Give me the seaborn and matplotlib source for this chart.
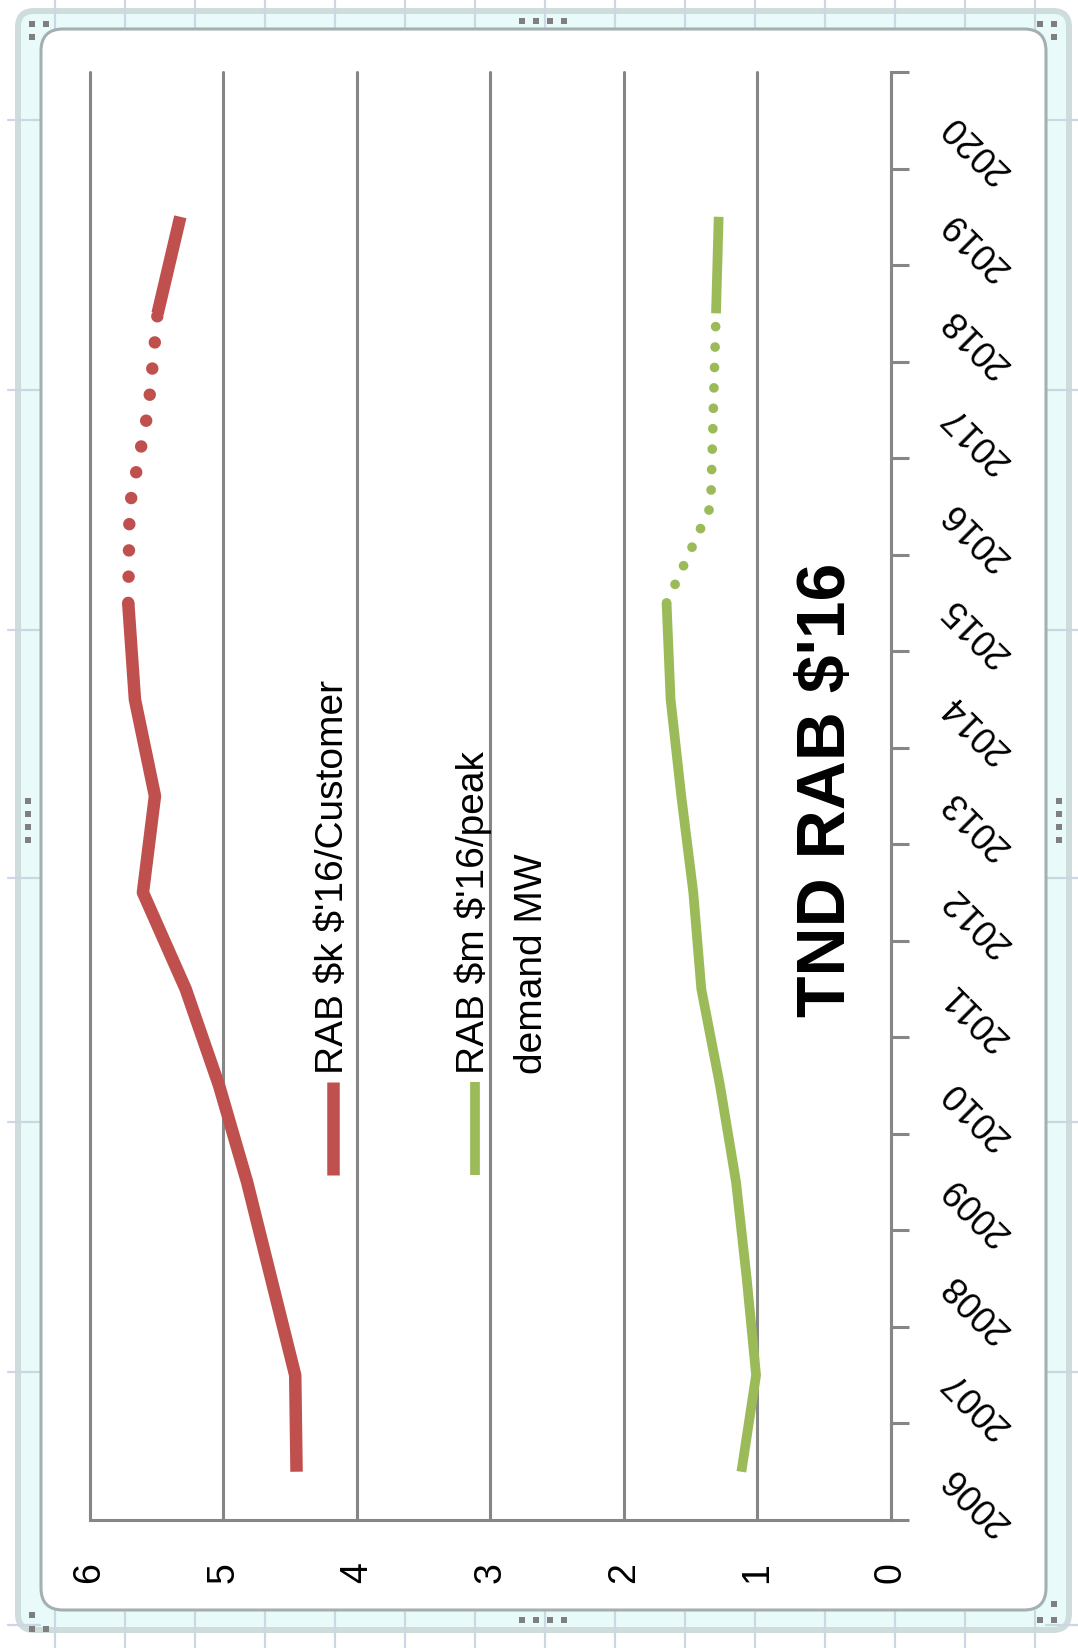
import matplotlib
matplotlib.use('Agg')
import matplotlib.pyplot as plt
import seaborn as sns
import pandas as pd
from matplotlib.patches import FancyBboxPatch, Rectangle
from matplotlib.lines import Line2D
from matplotlib.transforms import IdentityTransform

# --- data -------------------------------------------------------------
years = [2006, 2007, 2008, 2009, 2010, 2011, 2012, 2013, 2014, 2015, 2016, 2017, 2018, 2019]
year_ticks = [2006, 2007, 2008, 2009, 2010, 2011, 2012, 2013, 2014, 2015, 2016, 2017, 2018, 2019, 2020]
value_ticks = [0, 1, 2, 3, 4, 5, 6]

rab_per_customer = [4.45, 4.46, 4.64, 4.82, 5.03, 5.28, 5.60, 5.51, 5.66, 5.71, 5.70, 5.56, 5.49, 5.32]
rab_per_peak_mw = [1.12, 1.01, 1.08, 1.16, 1.28, 1.42, 1.48, 1.57, 1.65, 1.68, 1.35, 1.33, 1.31, 1.29]

# years 2015-2018 are joined with a dotted line, the rest solid
segments = [('solid', 2006, 2015), ('dotted', 2015, 2018), ('solid', 2018, 2019)]

red_label = "RAB $k $'16/Customer"
green_label = ["RAB $m $'16/peak", "demand MW"]
title = "TND RAB $'16"

RED = '#C0504D'
GREEN = '#9BBB59'
GRID = '#868686'

W, H = 1078, 1648

sns.set_style('white')
plt.rcParams['font.family'] = ['Liberation Sans', 'DejaVu Sans']
plt.rcParams['text.color'] = 'black'

fig = plt.figure(figsize=(W / 100, H / 100), dpi=100)
fig.patch.set_facecolor('white')


def px(x, y):
    return x, H - y


# --- spreadsheet / chart frame decoration -----------------------------
ident = IdentityTransform()
outer = FancyBboxPatch(px(18, 1630), 1051, 1619, boxstyle='round,pad=0,rounding_size=16',
                       transform=ident, facecolor='#E8FAFA', edgecolor='#CFDCDC',
                       linewidth=4.3, zorder=-10)
fig.add_artist(outer)
for cx in range(55, 1060, 70):
    fig.add_artist(Line2D([cx, cx], [H, H - 29], transform=ident, color='#CDD7E3', lw=1.6, zorder=-9))
    fig.add_artist(Line2D([cx, cx], [H - 1611, 0], transform=ident, color='#CDD7E3', lw=1.6, zorder=-9))
for cy in [120, 390, 630, 878, 1122, 1372, 1625]:
    fig.add_artist(Line2D([8, 40], [H - cy, H - cy], transform=ident, color='#CDD7E3', lw=1.6, zorder=-9))
    fig.add_artist(Line2D([1046, 1078], [H - cy, H - cy], transform=ident, color='#CDD7E3', lw=1.6, zorder=-9))
inner = FancyBboxPatch(px(41, 1610), 1005, 1581, boxstyle='round,pad=0,rounding_size=22',
                       transform=ident, facecolor='white', edgecolor='#A4B0B0',
                       linewidth=2.2, zorder=-8)
fig.add_artist(inner)

handles = [(29, 21), (43, 21), (29, 34), (519, 18), (533, 18), (547, 18), (561, 18),
           (1037, 21), (1051, 21), (1051, 34), (25, 798), (25, 811), (25, 824), (25, 837),
           (1056, 798), (1056, 811), (1056, 824), (1056, 837),
           (519, 1617), (533, 1617), (547, 1617), (561, 1617),
           (29, 1612), (29, 1626), (43, 1626), (1051, 1601), (1037, 1617), (1051, 1617)]
for hx, hy in handles:
    fig.add_artist(Rectangle((hx, H - hy - 6), 6, 6, transform=ident, facecolor='#7F7F7F',
                             edgecolor='none', zorder=-7))

# --- plot area --------------------------------------------------------
left, right, top, bottom = 89.5, 891, 72, 1520
ax = fig.add_axes([left / W, 1 - bottom / H, (right - left) / W, (bottom - top) / H])
ax.patch.set_alpha(0)

df = pd.DataFrame({'year': years, 'customer': rab_per_customer, 'peak': rab_per_peak_mw})
for style, y0, y1 in segments:
    part = df[(df['year'] >= y0) & (df['year'] <= y1)]
    for col, color, lw in [('customer', RED, 9), ('peak', GREEN, 7)]:
        kw = dict(solid_capstyle='butt', solid_joinstyle='round')
        if style == 'dotted':
            kw = dict(linestyle=(0, (0.001, 2.1)), dash_capstyle='round')
        sns.lineplot(data=part, x=col, y='year', orient='y', sort=False, estimator=None,
                     color=color, lw=lw, ax=ax, **kw)

ax.set_xlim(6, 0)
ax.set_ylim(2005.5, 2020.5)
ax.set_xlabel('')
ax.set_ylabel('')

# value axis (bottom)
ax.set_xticks(value_ticks)
ax.set_xticklabels([str(v) for v in value_ticks])
ax.tick_params(axis='x', direction='out', length=10, width=2.2, color=GRID, pad=20,
               labelsize=27, labelrotation=90, labelcolor='black')
ax.xaxis.grid(True, color=GRID, lw=2.2)
for gl in ax.get_xgridlines():
    gl.set_clip_on(False)
ax.yaxis.grid(False)

# category axis (right)
ax.yaxis.tick_right()
ax.set_yticks(year_ticks)
ax.set_yticklabels([str(y) for y in year_ticks])
ax.set_yticks([y - 0.5 for y in year_ticks] + [2020.5], minor=True)
ax.tick_params(axis='y', which='major', length=0, pad=41, labelsize=26, labelcolor='black')
ax.tick_params(axis='y', which='minor', direction='out', length=13, width=2.2, color=GRID,
               right=True, left=False)
for lbl in ax.get_yticklabels():
    lbl.set_rotation(135)
    lbl.set_rotation_mode('anchor')
    lbl.set_ha('right')
    lbl.set_va('center')

for side in ['left', 'top']:
    ax.spines[side].set_visible(False)
for side in ['bottom', 'right']:
    ax.spines[side].set_color(GRID)
    ax.spines[side].set_linewidth(2.2)

# --- legend drawn inside the plot, rotated like the rest --------------
ax.add_line(Line2D([0.3038, 0.3038], [0.3025, 0.2383], transform=ax.transAxes,
                   color=RED, lw=9, solid_capstyle='butt'))
ax.add_line(Line2D([0.481, 0.481], [0.3025, 0.2383], transform=ax.transAxes,
                   color=GREEN, lw=7, solid_capstyle='butt'))
ax.text(0.3038, 0.308, red_label, transform=ax.transAxes, rotation=90, rotation_mode='anchor',
        ha='left', va='center', fontsize=28, color='black', parse_math=False)
ax.text(0.4790, 0.308, green_label[0], transform=ax.transAxes, rotation=90, rotation_mode='anchor',
        ha='left', va='center', fontsize=28, color='black', parse_math=False)
ax.text(0.5520, 0.308, green_label[1], transform=ax.transAxes, rotation=90, rotation_mode='anchor',
        ha='left', va='center', fontsize=28, color='black', parse_math=False)

ax.text(0.920, 0.504, title, transform=ax.transAxes, rotation=90, ha='center', va='center',
        fontsize=49, fontweight='bold', color='black', parse_math=False)

fig.savefig('out.png', dpi=100)
